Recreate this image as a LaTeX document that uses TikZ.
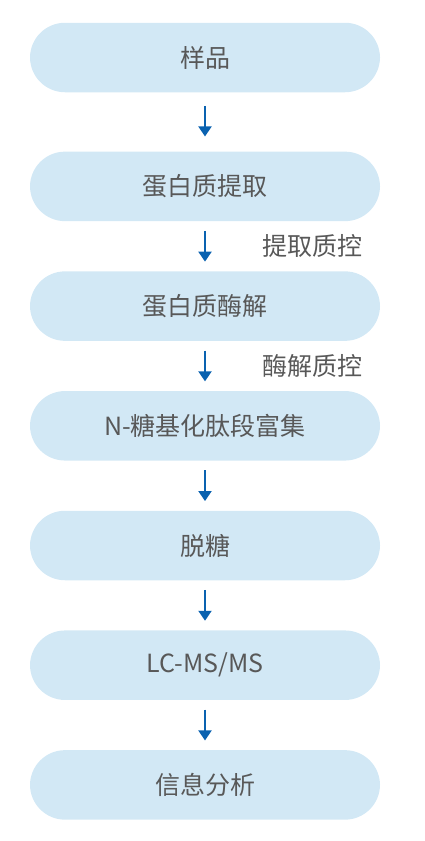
\documentclass[tikz,border=0pt]{standalone}
\usepackage{fontspec}
\setmainfont{Noto Sans CJK SC}
\usetikzlibrary{arrows.meta, positioning}
\definecolor{boxblue}{RGB}{210,232,245}
\definecolor{arrowblue}{RGB}{10,98,176}
\definecolor{textgray}{RGB}{88,88,88}
\tikzset{
  stage/.style={rectangle, rounded corners=35pt, fill=boxblue, draw=none, minimum width=350pt, minimum height=69.5pt, align=center, text=textgray, font=\fontsize{25}{28}\selectfont},
  flow/.style={-{Triangle[width=13pt,length=10pt]}, line width=2pt, draw=arrowblue, shorten <=9.5pt, shorten >=9.5pt},
  qclabel/.style={anchor=west, xshift=56pt, text=textgray, font=\fontsize{25}{28}\selectfont, inner sep=0pt}
}

\begin{document}
\begin{tikzpicture}[x=1pt, y=1pt]
\useasboundingbox (0,0) rectangle (424,-841);

% workflow stages
\node[stage] (sample) at (205,-57.5) {样品};
\node[stage, below=59pt of sample] (extract) {蛋白质提取};
\node[stage, below=49.8pt of extract] (digest) {蛋白质酶解};
\node[stage, below=49.8pt of digest] (enrich) {N-糖基化肽段富集};
\node[stage, below=49.8pt of enrich] (deglyco) {脱糖};
\node[stage, below=49.8pt of deglyco] (lcms) {LC-MS/MS};
\node[stage, below=49.8pt of lcms] (analysis) {信息分析};

% arrows between stages
\draw[flow, shorten <=13.5pt, shorten >=15pt] (sample) -- (extract);
\draw[flow] (extract) -- node[qclabel] {提取质控} (digest);
\draw[flow] (digest) -- node[qclabel] {酶解质控} (enrich);
\draw[flow] (enrich) -- (deglyco);
\draw[flow] (deglyco) -- (lcms);
\draw[flow] (lcms) -- (analysis);

\end{tikzpicture}
\end{document}
